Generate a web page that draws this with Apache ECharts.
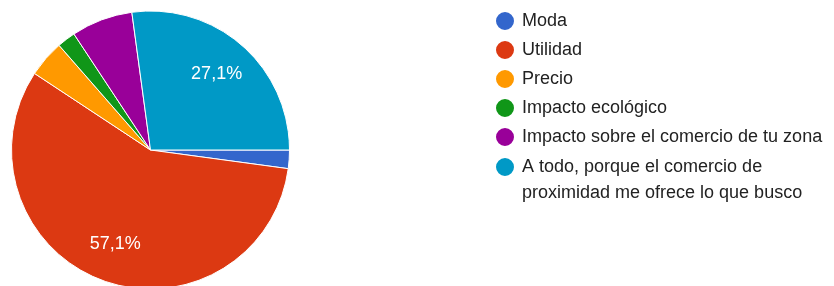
<!DOCTYPE html>
<html>
<head>
<meta charset="utf-8">
<script src="https://cdn.jsdelivr.net/npm/echarts@6/dist/echarts.min.js"></script>
<style>
  html, body { margin: 0; padding: 0; background: #fff; }
  #main { width: 834px; height: 286px; }
</style>
</head>
<body>
<div id="main"></div>
<script>
// respuestas por opción
const categories = [
  "Moda",
  "Utilidad",
  "Precio",
  "Impacto ecológico",
  "Impacto sobre el comercio de tu zona",
  "A todo, porque el comercio de proximidad me ofrece lo que busco"
];
const values = [3, 80, 6, 3, 10, 38];
const colors = ["#3366cc", "#dc3912", "#ff9900", "#109618", "#990099", "#0099c6"];

const pieData = categories.map((name, i) => {
  return { name: name, value: values[i] };
});

const myChart = echarts.init(document.getElementById("main"));

const legendText = {
  fontFamily: "Liberation Sans, Arial",
  fontSize: 18,
  lineHeight: 26,
  color: "#222",
  padding: [0, 0, 0, 2],
};

const option = {
  backgroundColor: "#fff",
  color: colors,
  animation: false,
  legend: [
    {
      orient: "vertical",
      left: 494,
      top: 8,
      padding: 0,
      icon: "circle",
      itemWidth: 20,
      itemHeight: 20,
      itemGap: 3,
      selectedMode: false,
      data: categories.slice(0, 5),
      textStyle: legendText,
    },
    {
      // la última opción va en dos líneas, icono alineado con la primera
      orient: "vertical",
      left: 494,
      top: 128,
      padding: 0,
      icon: "circle",
      itemWidth: 20,
      itemHeight: 20,
      selectedMode: false,
      data: categories.slice(5),
      formatter: () => "\nA todo, porque el comercio de\nproximidad me ofrece lo que busco",
      textStyle: legendText,
    },
  ],
  series: [
    {
      type: "pie",
      center: [150.5, 150],
      radius: [0, 139],
      startAngle: 0,
      clockwise: true,
      silent: true,
      label: { show: false },
      labelLine: { show: false },
      itemStyle: { borderColor: "#fff", borderWidth: 1 },
      data: pieData,
    },
    {
      // solo para colocar las etiquetas de porcentaje
      type: "pie",
      center: [150.5, 150],
      radius: [56, 139],
      startAngle: 0,
      clockwise: true,
      silent: true,
      percentPrecision: 1,
      itemStyle: { color: "transparent", borderWidth: 0 },
      label: {
        show: true,
        position: "inside",
        fontFamily: "Liberation Sans, Arial",
        fontSize: 18,
        color: "#fff",
        formatter: (p) => (p.percent >= 10 ? p.percent.toFixed(1).replace(".", ",") + "%" : ""),
      },
      labelLine: { show: false },
      data: pieData,
    },
  ],
};

myChart.setOption(option);
</script>
</body>
</html>
